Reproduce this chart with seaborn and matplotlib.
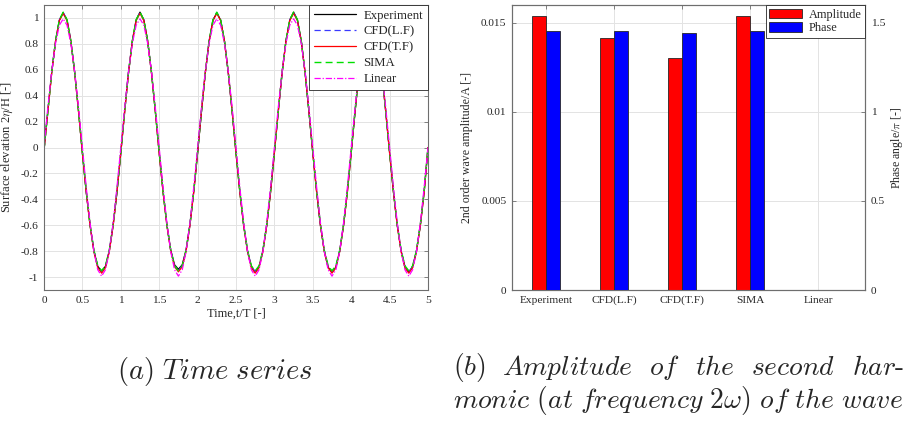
import numpy as np
import pandas as pd
import matplotlib
matplotlib.use("Agg")
import matplotlib.pyplot as plt
from matplotlib.ticker import FuncFormatter
import seaborn as sns

# ---------------- data ----------------
time = np.linspace(0, 5, 101)  # t/T sampling, step 0.05

experiment = [
    -0.02, 0.280, 0.577, 0.821, 0.983, 1.040, 0.983, 0.821, 0.576, 0.277, -0.040, -0.341, -0.600, -0.797, -0.917, -0.955, -0.917, -0.797, -0.600, -0.341,
    -0.040, 0.277, 0.577, 0.822, 0.985, 1.045, 0.985, 0.822, 0.577, 0.277, -0.040, -0.338, -0.595, -0.790, -0.905, -0.940, -0.905, -0.790, -0.595, -0.338,
    -0.040, 0.277, 0.576, 0.821, 0.983, 1.040, 0.983, 0.821, 0.576, 0.277, -0.040, -0.341, -0.600, -0.797, -0.920, -0.960, -0.920, -0.797, -0.600, -0.341,
    -0.040, 0.277, 0.577, 0.822, 0.985, 1.045, 0.985, 0.822, 0.577, 0.277, -0.040, -0.342, -0.602, -0.800, -0.924, -0.965, -0.924, -0.800, -0.602, -0.342,
    -0.040, 0.277, 0.576, 0.821, 0.983, 1.040, 0.983, 0.821, 0.576, 0.277, -0.040, -0.341, -0.600, -0.797, -0.920, -0.960, -0.920, -0.797, -0.600, -0.341,
    0.000,
]
cfd_lf = [
    -0.02, 0.278, 0.577, 0.821, 0.984, 1.042, 0.984, 0.821, 0.577, 0.278, -0.040, -0.341, -0.600, -0.798, -0.921, -0.960, -0.921, -0.798, -0.600, -0.341,
    -0.040, 0.278, 0.577, 0.821, 0.984, 1.042, 0.984, 0.821, 0.577, 0.278, -0.040, -0.339, -0.597, -0.793, -0.912, -0.950, -0.912, -0.793, -0.597, -0.339,
    -0.040, 0.278, 0.577, 0.821, 0.984, 1.042, 0.984, 0.821, 0.577, 0.278, -0.040, -0.341, -0.600, -0.798, -0.921, -0.960, -0.921, -0.798, -0.600, -0.341,
    -0.040, 0.278, 0.577, 0.821, 0.984, 1.042, 0.984, 0.821, 0.577, 0.278, -0.040, -0.341, -0.600, -0.798, -0.921, -0.960, -0.921, -0.798, -0.600, -0.341,
    -0.040, 0.278, 0.577, 0.821, 0.984, 1.042, 0.984, 0.821, 0.577, 0.278, -0.040, -0.341, -0.600, -0.798, -0.921, -0.960, -0.921, -0.798, -0.600, -0.341,
    0.000,
]
cfd_tf = [
    -0.02, 0.276, 0.574, 0.818, 0.980, 1.035, 0.980, 0.818, 0.574, 0.276, -0.045, -0.346, -0.605, -0.805, -0.928, -0.970, -0.928, -0.805, -0.605, -0.346,
    -0.040, 0.276, 0.574, 0.818, 0.980, 1.035, 0.980, 0.818, 0.574, 0.276, -0.045, -0.344, -0.602, -0.800, -0.920, -0.960, -0.920, -0.800, -0.602, -0.344,
    -0.040, 0.276, 0.574, 0.818, 0.980, 1.035, 0.980, 0.818, 0.574, 0.276, -0.045, -0.346, -0.605, -0.805, -0.928, -0.970, -0.928, -0.805, -0.605, -0.346,
    -0.040, 0.276, 0.574, 0.818, 0.980, 1.035, 0.980, 0.818, 0.574, 0.276, -0.045, -0.346, -0.605, -0.805, -0.928, -0.970, -0.928, -0.805, -0.605, -0.346,
    -0.040, 0.276, 0.574, 0.818, 0.980, 1.035, 0.980, 0.818, 0.574, 0.276, -0.045, -0.346, -0.605, -0.805, -0.928, -0.970, -0.928, -0.805, -0.605, -0.346,
    0.000,
]
sima = [
    -0.02, 0.279, 0.578, 0.823, 0.986, 1.045, 0.986, 0.823, 0.578, 0.279, -0.035, -0.337, -0.596, -0.793, -0.913, -0.952, -0.913, -0.793, -0.596, -0.337,
    -0.035, 0.279, 0.578, 0.823, 0.986, 1.045, 0.986, 0.823, 0.578, 0.279, -0.035, -0.337, -0.596, -0.793, -0.913, -0.952, -0.913, -0.793, -0.596, -0.337,
    -0.035, 0.279, 0.578, 0.823, 0.986, 1.045, 0.986, 0.823, 0.578, 0.279, -0.035, -0.337, -0.596, -0.793, -0.913, -0.952, -0.913, -0.793, -0.596, -0.337,
    -0.035, 0.279, 0.578, 0.823, 0.986, 1.045, 0.986, 0.823, 0.578, 0.279, -0.035, -0.337, -0.596, -0.793, -0.913, -0.952, -0.913, -0.793, -0.596, -0.337,
    -0.035, 0.279, 0.578, 0.823, 0.986, 1.045, 0.986, 0.823, 0.578, 0.279, -0.035, -0.337, -0.596, -0.793, -0.913, -0.952, -0.913, -0.793, -0.596, -0.337,
    0.000,
]
linear = [
    0.000, 0.307, 0.584, 0.803, 0.944, 0.993, 0.944, 0.803, 0.584, 0.307, 0.000, -0.307, -0.584, -0.803, -0.944, -0.993, -0.944, -0.803, -0.584, -0.307,
    0.000, 0.307, 0.584, 0.803, 0.944, 0.993, 0.944, 0.803, 0.584, 0.307, 0.000, -0.307, -0.584, -0.803, -0.944, -0.993, -0.944, -0.803, -0.584, -0.307,
    0.000, 0.307, 0.584, 0.803, 0.944, 0.993, 0.944, 0.803, 0.584, 0.307, 0.000, -0.307, -0.584, -0.803, -0.944, -0.993, -0.944, -0.803, -0.584, -0.307,
    0.000, 0.307, 0.584, 0.803, 0.944, 0.993, 0.944, 0.803, 0.584, 0.307, 0.000, -0.307, -0.584, -0.803, -0.944, -0.993, -0.944, -0.803, -0.584, -0.307,
    0.000, 0.307, 0.584, 0.803, 0.944, 0.993, 0.944, 0.803, 0.584, 0.307, 0.000, -0.307, -0.584, -0.803, -0.944, -0.993, -0.944, -0.803, -0.584, -0.307,
    0.000,
]
series_names = ["Experiment", "CFD(L.F)", "CFD(T.F)", "SIMA", "Linear"]

categories = ["Experiment", "CFD(L.F)", "CFD(T.F)", "SIMA", "Linear"]
amplitude = [0.0154, 0.01415, 0.0130, 0.0154, 0.0]
phase = [1.454, 1.454, 1.441, 1.454, 0.0]

amp_ticks = [0, 0.005, 0.01, 0.015]
amp_ticklabels = ["0", "0.005", "0.01", "0.015"]
phase_ticks = [0, 0.5, 1, 1.5]
phase_ticklabels = ["0", "0.5", "1", "1.5"]

# ---------------- style ----------------
sns.set_theme(style="white")
plt.rcParams["font.family"] = ["Liberation Serif", "DejaVu Serif"]
plt.rcParams["mathtext.fontset"] = "cm"
plt.rcParams["axes.unicode_minus"] = False

DARK = "#262626"
SPINE = "#6e6e6e"
GRID = "#e3e3e3"

fig = plt.figure(figsize=(9.10, 4.26), dpi=100)
W, H = 910, 426


def px_axes(x0, y0, x1, y1):
    return fig.add_axes([x0 / W, 1 - y1 / H, (x1 - x0) / W, (y1 - y0) / H])


def _fmt(v, p):
    v = round(v, 6) + 0.0
    if abs(v) < 1e-9:
        v = 0.0
    return "%g" % v


fmt = FuncFormatter(_fmt)

# ---------------- (a) time series ----------------
ax1 = px_axes(44, 5, 428, 290)
styles = {
    "Experiment": dict(color="black", linestyle="-", linewidth=0.9),
    "CFD(L.F)": dict(color="#3a3aff", linestyle=(0, (5, 3)), linewidth=0.9),
    "CFD(T.F)": dict(color="#ff0000", linestyle="-", linewidth=0.9),
    "SIMA": dict(color="#00e000", linestyle=(0, (5, 3)), linewidth=1.0),
    "Linear": dict(color="#ff00ff", linestyle=(0, (5, 1.5, 1, 1.5)), linewidth=0.9),
}
all_series = [experiment, cfd_lf, cfd_tf, sima, linear]
for name, vals in zip(series_names, all_series):
    sns.lineplot(x=time, y=vals, ax=ax1, label=name, **styles[name])

ax1.set_xlim(0, 5)
ax1.set_ylim(-1.1, 1.1)
ax1.set_xticks(np.arange(0, 5.01, 0.5))
ax1.set_yticks(np.arange(-1, 1.01, 0.2))
ax1.xaxis.set_major_formatter(fmt)
ax1.yaxis.set_major_formatter(fmt)
ax1.grid(True, color=GRID, linewidth=0.7)
ax1.set_axisbelow(True)
ax1.tick_params(direction="in", top=True, right=True, length=3, width=0.6,
                color=SPINE, labelsize=8.2, labelcolor=DARK, pad=4)
for s in ax1.spines.values():
    s.set_color(SPINE)
    s.set_linewidth(0.8)
ax1.set_xlabel("Time,t/T [-]", fontsize=9, color=DARK, labelpad=2)
ax1.set_ylabel(r"Surface elevation 2$\eta$/H [-]", fontsize=9, color=DARK, labelpad=4)
leg1 = ax1.legend(loc="upper right", borderaxespad=0, fancybox=False, edgecolor=DARK,
                  framealpha=1, fontsize=9.2, handlelength=3.3, labelspacing=0.3,
                  borderpad=0.38, handletextpad=0.6)
leg1.get_frame().set_linewidth(0.6)

# ---------------- (b) bars ----------------
ax2 = px_axes(512, 5, 865, 290)
ax3 = ax2.twinx()
xpos = np.arange(len(categories))
b1 = ax2.bar(xpos - 0.2, amplitude, width=0.2, align="edge", color="#ff0000",
             edgecolor=DARK, linewidth=0.6, label="Amplitude", zorder=3)
b2 = ax3.bar(xpos, phase, width=0.2, align="edge", color="#0000ff",
             edgecolor=DARK, linewidth=0.6, label="Phase", zorder=3)
ax2.set_xlim(-0.5, 4.69)
ax2.set_xticks(xpos)
ax2.set_xticklabels(categories)
ax2.set_ylim(0, 0.016)
ax2.set_yticks(amp_ticks)
ax2.set_yticklabels(amp_ticklabels)
ax3.set_ylim(0, 1.6)
ax3.set_yticks(phase_ticks)
ax3.set_yticklabels(phase_ticklabels)
ax2.grid(True, color=GRID, linewidth=0.7)
ax2.set_axisbelow(True)
ax2.tick_params(axis="both", direction="in", top=True, right=False, length=3, width=0.6,
                color=SPINE, labelsize=8.2, labelcolor=DARK, pad=4)
ax3.tick_params(axis="y", direction="in", length=3, width=0.6, color=SPINE,
                labelsize=8.2, labelcolor=DARK, pad=4)
for a in (ax2, ax3):
    for s in a.spines.values():
        s.set_color(SPINE)
        s.set_linewidth(0.8)
ax2.set_ylabel("2nd order wave amplitude/A [-]", fontsize=8.6, color=DARK, labelpad=6)
ax3.set_ylabel(r"Phase angle/$\pi$ [-]", fontsize=8.6, color=DARK, labelpad=3)
leg2 = ax3.legend(handles=[b1, b2], loc="upper right", borderaxespad=0, fancybox=False,
                  edgecolor=DARK, framealpha=1, fontsize=8.8, handlelength=2.7,
                  handleheight=0.8, labelspacing=0.12, borderpad=0.3, handletextpad=0.5)
leg2.get_frame().set_linewidth(0.6)

# ---------------- captions ----------------
CAP = 20.6
CAP2 = 19.9


def it(s):
    return r"$\mathit{" + s.replace(" ", r"\ ") + "}$"


fig.text(215 / W, 1 - 379 / H, it("(a) Time series"), ha="center", va="baseline", fontsize=CAP)

renderer = fig.canvas.get_renderer()
words = [it("(b)"), it("Amplitude"), it("of"), it("the"), it("second"),
         r"$\mathit{har}\text{-}$"]
texts = [fig.text(0, 1 - 375 / H, w, ha="left", va="baseline", fontsize=CAP2) for w in words]
widths = [t.get_window_extent(renderer=renderer).width for t in texts]
x_left, x_right = 453.0, 904.0
gap = (x_right - x_left - sum(widths)) / (len(words) - 1)
xcur = x_left
for t, wdt in zip(texts, widths):
    t.set_x(xcur / W)
    xcur += wdt + gap

fig.text(453 / W, 1 - 408 / H,
         r"$\mathit{monic\ (at\ frequency\ 2}\omega\mathit{)\ of\ the\ wave}$",
         ha="left", va="baseline", fontsize=CAP2)

fig.savefig("out.png", dpi=100)
